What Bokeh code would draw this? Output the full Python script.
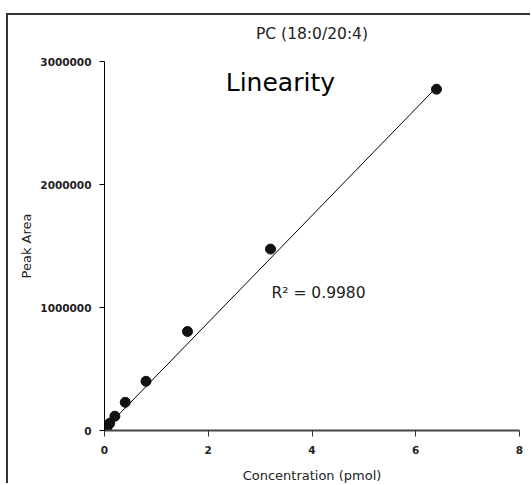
from bokeh.plotting import figure
from bokeh.models import Range1d, FixedTicker, Label, NumeralTickFormatter, Title
from bokeh.embed import file_html
from bokeh.resources import INLINE

# Data
conc = [0.0125, 0.025, 0.05, 0.1, 0.2, 0.4, 0.8, 1.6, 3.2, 6.4]
area = [7000, 14000, 28000, 58000, 116000, 229000, 400000, 805000, 1475000, 2775000]
fit_x = [0.0, 6.4]
fit_y = [10000, 2790000]
x_ticks = [0, 2, 4, 6, 8]
y_ticks = [0, 1000000, 2000000, 3000000]
title_text = "PC (18:0/20:4)"
x_label = "Concentration (pmol)"
y_label = "Peak Area"
note_text = "Linearity"
r2_text = "R\u00b2 = 0.9980"

FONT = "DejaVu Sans"

p = figure(width=524, height=470, output_backend="svg", toolbar_location=None,
           x_range=Range1d(0, 8), y_range=Range1d(0, 3000000),
           min_border_left=96, min_border_right=13, min_border_top=46, min_border_bottom=54)
p.styles = {"border-left": "2px solid #333333", "border-top": "2px solid #333333",
            "margin-left": "6px", "margin-top": "13px"}
p.outline_line_color = None
p.xgrid.visible = False
p.ygrid.visible = False
p.background_fill_color = "white"
p.border_fill_color = "white"

# spacer between frame and title (lifts the title)
p.add_layout(Title(text=" ", text_font_size="2px", text_color="white"), "above")

p.title.text = title_text
p.title.align = "center"
p.title.text_font = FONT
p.title.text_font_style = "normal"
p.title.text_font_size = "15.5px"
p.title.text_color = "#222222"

# axes
xa = p.xaxis[0]
xa.ticker = FixedTicker(ticks=x_ticks)
xa.axis_line_color = "#444444"
xa.axis_line_width = 2
xa.major_tick_line_color = "#333333"
xa.major_tick_in = 0
xa.major_tick_out = 6
xa.minor_tick_line_color = None
xa.major_label_text_font = FONT
xa.major_label_text_font_style = "bold"
xa.major_label_text_font_size = "10.5px"
xa.major_label_text_color = "#222222"
xa.major_label_standoff = 9
xa.axis_label = x_label
xa.axis_label_text_font = FONT
xa.axis_label_text_font_style = "normal"
xa.axis_label_text_font_size = "13px"
xa.axis_label_text_color = "#222222"
xa.axis_label_standoff = 11

ya = p.yaxis[0]
ya.ticker = FixedTicker(ticks=y_ticks)
ya.formatter = NumeralTickFormatter(format="0")
ya.axis_line_color = "black"
ya.axis_line_width = 1
ya.major_tick_line_color = "black"
ya.major_tick_in = 0
ya.major_tick_out = 5
ya.minor_tick_line_color = None
ya.major_label_text_font = FONT
ya.major_label_text_font_style = "bold"
ya.major_label_text_font_size = "10.5px"
ya.major_label_text_color = "#222222"
ya.major_label_standoff = 8
ya.axis_label = y_label
ya.axis_label_text_font = FONT
ya.axis_label_text_font_style = "normal"
ya.axis_label_text_font_size = "13px"
ya.axis_label_text_color = "#222222"
ya.axis_label_standoff = 3

# fit line and points
p.line(fit_x, fit_y, line_color="black", line_width=1)
p.scatter(conc, area, size=10, fill_color="#111111", line_color="#111111")

# texts
p.add_layout(Label(x=3.39, y=2828000, text=note_text, text_align="center",
                   text_baseline="alphabetic", text_font=FONT, text_font_size="25px",
                   text_color="black"))
p.add_layout(Label(x=3.22, y=1119000, text=r2_text, text_align="left",
                   text_baseline="alphabetic", text_font=FONT, text_font_size="15.5px",
                   text_color="#222222"))

open("out.html", "w").write(file_html(p, INLINE))
